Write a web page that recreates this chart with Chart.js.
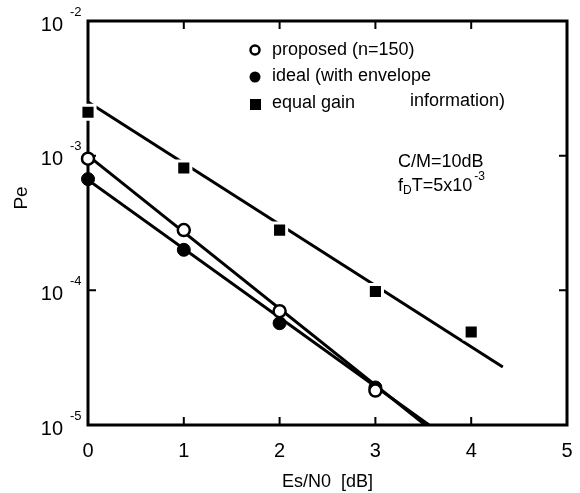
<!DOCTYPE html>
<html>
<head>
<meta charset="utf-8">
<script src="https://cdn.jsdelivr.net/npm/chart.js@4"></script>
<style>
  html, body { margin: 0; padding: 0; background: #fff; }
</style>
</head>
<body>
<canvas id="chart" width="580" height="493"></canvas>
<script>
// measured points
const esn0 = [0, 1, 2, 3, 4];
const proposed = [9.5e-4, 2.8e-4, 7.0e-5, 1.8e-5];
const ideal = [6.7e-4, 2.0e-4, 5.7e-5, 1.9e-5];
const equalGain = [2.1e-3, 8.1e-4, 2.8e-4, 9.8e-5, 4.9e-5];

// fitted straight lines (end points)
const proposedFitX = [0, 3.52];
const proposedFit = [1.0e-3, 1.0e-5];
const idealFitX = [0, 3.56];
const idealFit = [6.6e-4, 1.0e-5];
const equalFitX = [0, 4.33];
const equalFit = [2.5e-3, 2.7e-5];

const xTicks = [0, 1, 2, 3, 4, 5];
const yDecades = [-2, -3, -4, -5];

const FONT = "'Liberation Sans', Arial, sans-serif";

const pts = (xs, ys) => ys.map((v, i) => ({x: xs[i], y: v}));

// frame with inward ticks, drawn under the markers
const framePlugin = {
    id: 'frame',
    beforeDatasetsDraw(chart) {
        const {ctx, chartArea: a, scales: {x, y}} = chart;
        ctx.save();
        ctx.strokeStyle = '#000';
        ctx.lineWidth = 3;
        ctx.strokeRect(a.left, a.top, a.right - a.left, a.bottom - a.top);
        ctx.lineWidth = 2;
        ctx.beginPath();
        xTicks.slice(1, -1).forEach(t => {
            const px = x.getPixelForValue(t);
            ctx.moveTo(px, a.bottom); ctx.lineTo(px, a.bottom - 8);
            ctx.moveTo(px, a.top); ctx.lineTo(px, a.top + 8);
        });
        yDecades.slice(1, -1).forEach(k => {
            const py = y.getPixelForValue(Math.pow(10, k));
            ctx.moveTo(a.left, py); ctx.lineTo(a.left + 8, py);
            ctx.moveTo(a.right, py); ctx.lineTo(a.right - 8, py);
        });
        ctx.stroke();
        ctx.restore();
    }
};

// y tick labels as 10^k, axis title, legend and notes
const textPlugin = {
    id: 'texts',
    afterDraw(chart) {
        const {ctx, scales: {y}} = chart;
        ctx.save();
        ctx.fillStyle = '#000';
        ctx.textBaseline = 'middle';

        yDecades.forEach(k => {
            const py = y.getPixelForValue(Math.pow(10, k));
            ctx.font = '20px ' + FONT;
            ctx.textAlign = 'right';
            ctx.fillText('10', 63, py + 4);
            ctx.font = '13px ' + FONT;
            ctx.textAlign = 'left';
            ctx.fillText('-' + (-k), 70, py - 9);
        });

        ctx.save();
        ctx.translate(22, 198);
        ctx.rotate(-Math.PI / 2);
        ctx.font = '19px ' + FONT;
        ctx.textAlign = 'center';
        ctx.fillText('Pe', 0, 0);
        ctx.restore();

        // legend
        ctx.textAlign = 'left';
        ctx.font = '18px ' + FONT;
        ctx.lineWidth = 2.5;
        ctx.strokeStyle = '#000';
        ctx.beginPath();
        ctx.arc(255, 50, 4.5, 0, 2 * Math.PI);
        ctx.fillStyle = '#fff'; ctx.fill(); ctx.stroke();
        ctx.fillStyle = '#000';
        ctx.beginPath();
        ctx.arc(255, 77, 5.5, 0, 2 * Math.PI);
        ctx.fill();
        ctx.fillRect(250, 99, 11, 11);
        ctx.fillText('proposed (n=150)', 272, 50);
        ctx.fillText('ideal (with envelope', 272, 76);
        ctx.fillText('equal gain', 272, 103);
        ctx.fillText('information)', 410, 101);

        // notes
        ctx.fillText('C/M=10dB', 398, 162);
        let xx = 398;
        ctx.fillText('f', xx, 186); xx += ctx.measureText('f').width;
        ctx.font = '12px ' + FONT;
        ctx.fillText('D', xx, 191); xx += ctx.measureText('D').width;
        ctx.font = '18px ' + FONT;
        ctx.fillText('T=5x10', xx, 186); xx += ctx.measureText('T=5x10').width + 2;
        ctx.font = '12px ' + FONT;
        ctx.fillText('-3', xx, 177);
        ctx.restore();
    }
};

const chartConfig = {
    type: 'scatter',
    data: {
        datasets: [
            {
                label: 'proposed (n=150)',
                data: pts(esn0, proposed),
                pointStyle: 'circle',
                pointRadius: 6,
                backgroundColor: '#fff',
                borderColor: '#000',
                borderWidth: 2.5,
                clip: false,
                order: 0
            },
            {
                label: 'ideal (with envelope information)',
                data: pts(esn0, ideal),
                pointStyle: 'circle',
                pointRadius: 6.5,
                backgroundColor: '#000',
                borderColor: '#000',
                borderWidth: 1,
                clip: false,
                order: 1
            },
            {
                label: 'equal gain',
                data: pts(esn0, equalGain),
                pointStyle: 'rect',
                pointRadius: 10,
                backgroundColor: '#000',
                borderColor: '#fff',
                borderWidth: 3,
                clip: false,
                order: 2
            },
            {
                data: pts(proposedFitX, proposedFit),
                showLine: true,
                pointRadius: 0,
                borderColor: '#000',
                borderWidth: 3,
                order: 3
            },
            {
                data: pts(idealFitX, idealFit),
                showLine: true,
                pointRadius: 0,
                borderColor: '#000',
                borderWidth: 3,
                order: 4
            },
            {
                data: pts(equalFitX, equalFit),
                showLine: true,
                pointRadius: 0,
                borderColor: '#000',
                borderWidth: 3,
                order: 5
            }
        ]
    },
    options: {
        responsive: false,
        animation: false,
        layout: {padding: {top: 21, right: 8, bottom: 0, left: 0}},
        plugins: {
            legend: {display: false},
            tooltip: {enabled: false}
        },
        scales: {
            x: {
                type: 'linear',
                min: 0,
                max: 5,
                afterFit: s => { s.height = 68; s.paddingRight = 0; s.paddingLeft = 0; },
                afterBuildTicks: s => { s.ticks = xTicks.map(v => ({value: v})); },
                grid: {display: false},
                border: {display: false},
                ticks: {
                    color: '#000',
                    padding: 6,
                    font: {family: FONT, size: 20}
                },
                title: {
                    display: true,
                    text: 'Es/N0  [dB]',
                    color: '#000',
                    padding: 0,
                    font: {family: FONT, size: 18}
                }
            },
            y: {
                type: 'logarithmic',
                min: 1e-5,
                max: 1e-2,
                afterFit: s => { s.width = 88; },
                grid: {display: false},
                border: {display: false},
                ticks: {display: false}
            }
        }
    },
    plugins: [framePlugin, textPlugin]
};

new Chart(document.getElementById('chart'), chartConfig);
</script>
</body>
</html>
